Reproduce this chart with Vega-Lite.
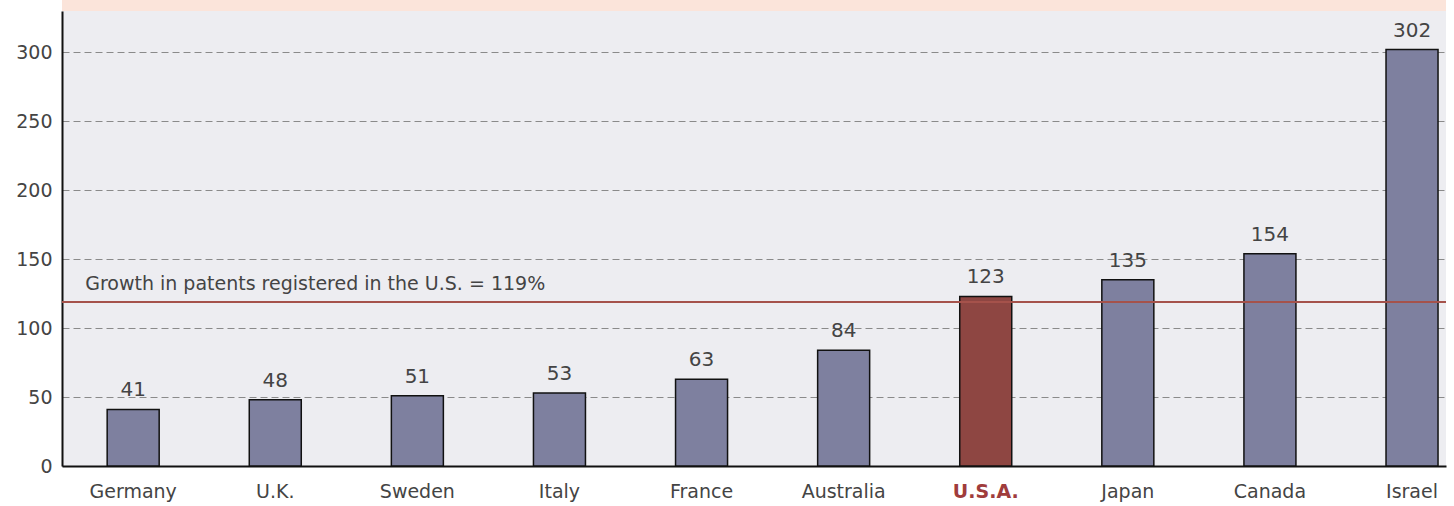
{
  "$schema": "https://vega.github.io/schema/vega-lite/v6.json",
  "width": 1384,
  "height": 455,
  "autosize": "none",
  "padding": {"left": 62, "top": 11, "right": 8, "bottom": 40},
  "background": "white",
  "config": {"view": {"fill": "#ededf1", "stroke": null}, "font": "DejaVu Sans"},
  "data": {"values": [
    {"country": "Germany", "value": 41, "usa": false},
    {"country": "U.K.", "value": 48, "usa": false},
    {"country": "Sweden", "value": 51, "usa": false},
    {"country": "Italy", "value": 53, "usa": false},
    {"country": "France", "value": 63, "usa": false},
    {"country": "Australia", "value": 84, "usa": false},
    {"country": "U.S.A.", "value": 123, "usa": true},
    {"country": "Japan", "value": 135, "usa": false},
    {"country": "Canada", "value": 154, "usa": false},
    {"country": "Israel", "value": 302, "usa": false}
  ]},
  "layer": [
    {
      "data": {"values": [{}]},
      "mark": {"type": "rect", "fill": "#fbe4da", "clip": false},
      "encoding": {
        "y": {"datum": 330, "type": "quantitative"},
        "y2": {"datum": 338}
      }
    },
    {
      "mark": {"type": "bar", "stroke": "#111", "strokeWidth": 1.5},
      "encoding": {
        "x": {
          "field": "country", "type": "nominal", "sort": null,
          "scale": {"paddingInner": 0.634, "paddingOuter": 0.187, "align": 0.85},
          "axis": {
            "title": null, "labelAngle": 0, "domainColor": "#111", "domainWidth": 2,
            "ticks": false, "labelFontSize": 19, "labelPadding": 16,
            "labelColor": {"condition": {"test": "datum.value === 'U.S.A.'", "value": "#a03c3c"}, "value": "#444"},
            "labelFontWeight": {"condition": {"test": "datum.value === 'U.S.A.'", "value": "bold"}, "value": "normal"}
          }
        },
        "y": {
          "field": "value", "type": "quantitative",
          "scale": {"domain": [0, 330], "nice": false},
          "axis": {
            "title": null, "values": [0, 50, 100, 150, 200, 250, 300],
            "domainColor": "#111", "domainWidth": 2, "ticks": false,
            "labelFontSize": 19, "labelColor": "#444", "labelPadding": 10,
            "grid": true, "gridDash": [7, 4], "gridColor": "#8a8a8a", "gridWidth": 1
          }
        },
        "fill": {
          "field": "usa", "type": "nominal",
          "scale": {"domain": [false, true], "range": ["#7e809f", "#8e4642"]},
          "legend": null
        }
      }
    },
    {
      "mark": {"type": "text", "baseline": "bottom", "dy": -9, "fontSize": 20, "color": "#444"},
      "encoding": {
        "x": {"field": "country", "type": "nominal", "sort": null},
        "y": {"field": "value", "type": "quantitative"},
        "text": {"field": "value", "type": "quantitative"}
      }
    },
    {
      "data": {"values": [{}]},
      "mark": {"type": "rule", "color": "#a5524b", "strokeWidth": 2},
      "encoding": {"y": {"datum": 119, "type": "quantitative"}}
    },
    {
      "data": {"values": [{}]},
      "mark": {"type": "text", "align": "left", "baseline": "bottom", "dx": -22, "dy": -8, "fontSize": 19, "color": "#444"},
      "encoding": {
        "x": {"datum": "Germany", "type": "nominal", "bandPosition": 0},
        "y": {"datum": 119, "type": "quantitative"},
        "text": {"value": "Growth in patents registered in the U.S. = 119%"}
      }
    }
  ]
}
